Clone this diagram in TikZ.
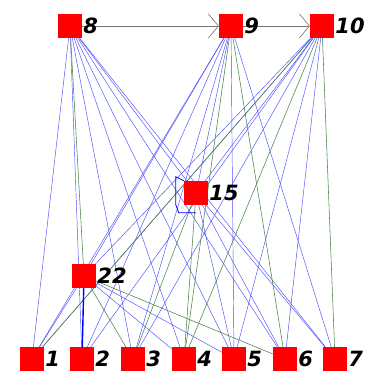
\documentclass[tikz,border=0pt]{standalone}
\usepackage{fontspec}
\setsansfont{DejaVu Sans}
\usetikzlibrary{arrows.meta,backgrounds}

\begin{document}
\begin{tikzpicture}[x=1pt,y=-1pt,
        vertex/.style={fill=red,draw=none,minimum size=24pt,inner sep=0pt},
        lbl/.style={font=\sffamily\bfseries\itshape\fontsize{21}{21}\selectfont,anchor=west,inner sep=1pt},
        bluelink/.style={draw=blue!70!white,line width=0.45pt},
        graylink/.style={draw=gray!70!green!80!black,line width=0.55pt},
        flowlink/.style={draw=gray!90!black,line width=0.6pt,-{Straight Barb[length=10pt,width=24pt,line width=0.6pt]}}]
    \useasboundingbox (0,0) rectangle (367,371);
    % upper row
    \node[vertex] (n8) at (70,26) {};  \node[lbl] at (n8.east) {8};
    \node[vertex] (n9) at (231,26) {}; \node[lbl] at (n9.east) {9};
    \node[vertex] (n10) at (322,26) {}; \node[lbl] at (n10.east) {10};
    % middle nodes
    \node[vertex] (n15) at (196,193) {}; \node[lbl] at (n15.east) {15};
    \node[vertex] (n22) at (84,276) {}; \node[lbl] at (n22.east) {22};
    % lower row
    \foreach \i/\x in {1/32, 2/82, 3/133, 4/184, 5/234, 6/285, 7/335}
        \node[vertex] (n\i) at (\x,359) {};
    \foreach \i in {1,...,7}
        \node[lbl] at (n\i.east) {\i};
    \begin{scope}[on background layer]
        \foreach \a/\b in {n8/n1, n8/n2, n8/n3, n8/n4, n8/n5, n8/n6, n8/n7, n8/n15, n9/n1, n9/n2, n9/n3, n9/n5, n9/n7, n9/n15, n9/n22, n10/n1, n10/n2, n10/n3, n10/n5, n10/n6, n10/n15, n10/n22, n15/n5, n15/n6, n15/n7, n22/n1, n22/n4, n22/n5}
            \draw[bluelink] (\a) -- (\b);
        \foreach \a/\b in {n8/n22, n9/n4, n9/n6, n10/n4, n10/n7, n22/n3, n22/n6, n1/n10, n15/n3, n15/n4}
            \draw[graylink] (\a) -- (\b);
        \draw[blue,line width=1.4pt] (n22) -- (n2);
        \draw[flowlink] (n8) -- (n9);
        \draw[flowlink] (n9) -- (n10);
        % loop on 15
        \draw[blue,line width=0.8pt] (n15.north west) -- ++(-8,-4) -- ++(0,28) -- ++(3,8) -- ++(17,0);
    \end{scope}
\end{tikzpicture}
\end{document}
